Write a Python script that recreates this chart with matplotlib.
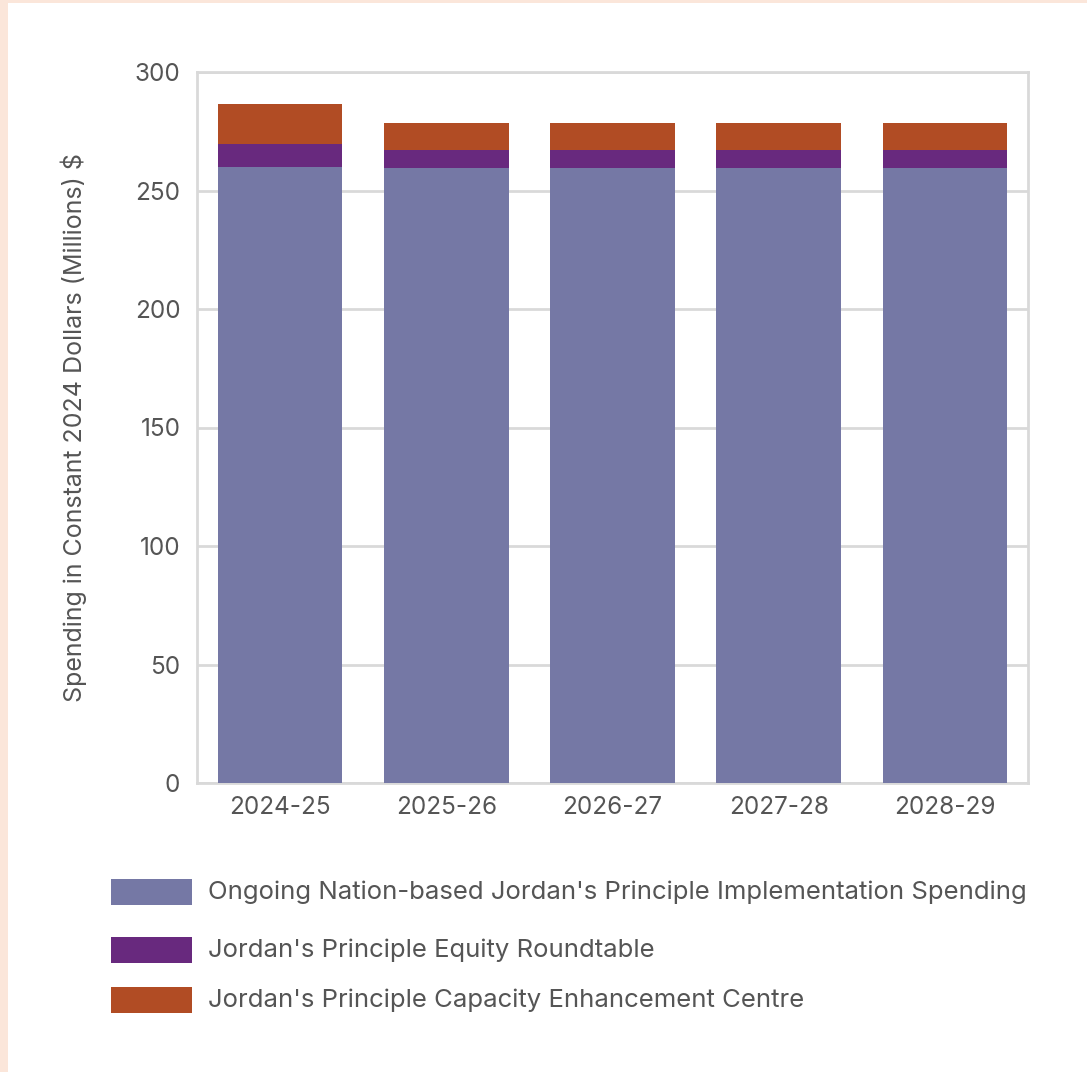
import matplotlib.pyplot as plt
from matplotlib.patches import Rectangle
import numpy as np

plt.rcParams['font.family'] = ['Inter', 'DejaVu Sans']

years = ['2024-25', '2025-26', '2026-27', '2027-28', '2028-29']
ongoing = [260, 259.6, 259.6, 259.6, 259.6]
equity = [9.8, 7.6, 7.6, 7.6, 7.6]
capacity = [16.9, 11.3, 11.3, 11.3, 11.3]

series_names = [
    "Ongoing Nation-based Jordan's Principle Implementation Spending",
    "Jordan's Principle Equity Roundtable",
    "Jordan's Principle Capacity Enhancement Centre",
]
series_colors = ['#7578a5', '#68297e', '#b14c24']
text_color = '#555555'
grid_color = '#d9d9d9'

fig = plt.figure(figsize=(10.87, 10.72), dpi=100)

# peach frame on the left and top edges
fig.add_artist(Rectangle((0, 0), 8 / 1087, 1, transform=fig.transFigure,
                         facecolor='#fbe6da', edgecolor='none'))
fig.add_artist(Rectangle((0, 1 - 3 / 1072), 1, 3 / 1072, transform=fig.transFigure,
                         facecolor='#fbe6da', edgecolor='none'))

ax = fig.add_axes([197 / 1087, 289 / 1072, 831 / 1087, 711 / 1072])

x = np.arange(len(years))
width = 0.75
bottom = np.zeros(len(years))
for vals, color in zip([ongoing, equity, capacity], series_colors):
    ax.bar(x, vals, width, bottom=bottom, color=color, zorder=3)
    bottom += np.array(vals)

ax.set_xlim(-0.5, len(years) - 0.5)
ax.set_ylim(0, 300)
ax.set_yticks(range(0, 301, 50))
ax.set_xticks(x)
ax.set_xticklabels(years)
ax.grid(axis='y', color=grid_color, linewidth=2, zorder=0)
for s in ax.spines.values():
    s.set_color(grid_color)
    s.set_linewidth(2)
ax.tick_params(length=0, labelsize=17.5, colors=text_color)
ax.tick_params(axis='y', pad=12)
ax.tick_params(axis='x', pad=9)
ax.set_ylabel('Spending in Constant 2024 Dollars (Millions) $', fontsize=18,
              color=text_color, labelpad=34)

# legend
rows_y = [892, 950, 1000]
for name, color, yc in zip(series_names, series_colors, rows_y):
    fig.add_artist(Rectangle((111 / 1087, 1 - (yc + 13) / 1072), 81 / 1087, 26 / 1072,
                             transform=fig.transFigure, facecolor=color, edgecolor='none'))
    fig.text(208 / 1087, 1 - yc / 1072, name, fontsize=18.5, color=text_color,
             va='center', ha='left')

fig.savefig('out.png', dpi=100, facecolor='white')
